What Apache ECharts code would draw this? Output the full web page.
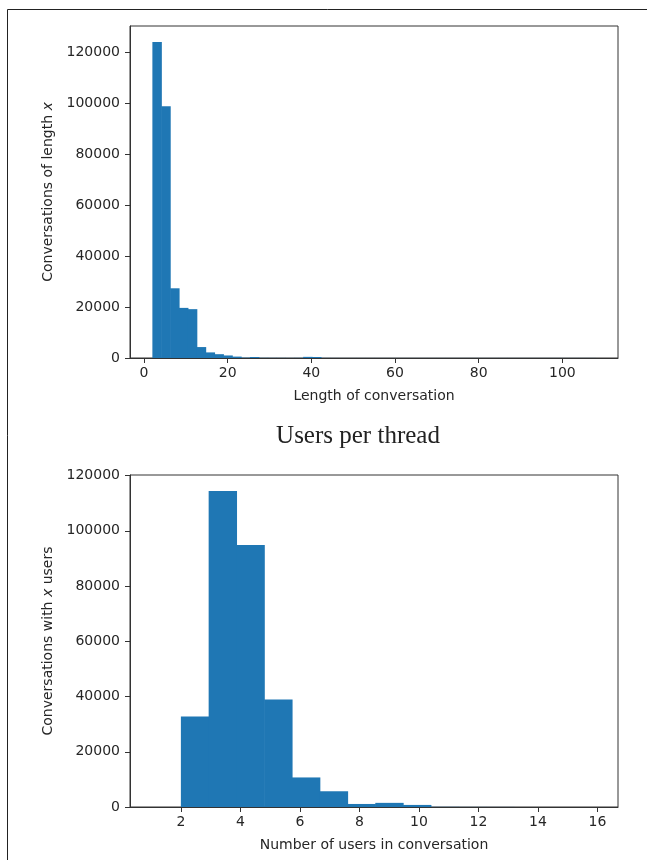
<!DOCTYPE html>
<html>
<head>
<meta charset="utf-8">
<script src="https://cdn.jsdelivr.net/npm/echarts@6/dist/echarts.min.js"></script>
<style>
html,body{margin:0;padding:0;background:#fff;}
#c{width:647px;height:860px;}
</style>
</head>
<body>
<div id="c"></div>
<script>
// ---- Data ----
// Top histogram: conversation length, 50 bins starting at 2, width 2.12
const lengthBinStart = 2;
const lengthBinWidth = 2.12;
const lengthCounts = [
  124200, 99000, 27400, 19700, 19200, 4300, 2200, 1500, 1000, 550,
  150, 400, 80, 60, 50, 40, 60, 450, 400, 40,
  30, 20, 20, 20, 20, 20, 20, 20, 20, 20,
  20, 20, 20, 20, 20, 20, 20, 20, 20, 20,
  20, 20, 20, 20, 20, 20, 20, 20, 20, 20
];
// Bottom histogram: users per conversation, 15 bins from 2 to 16
const usersBinStart = 2;
const usersBinEnd = 16;
const usersCounts = [
  32800, 114400, 94900, 38900, 10700, 5700, 1100, 1500, 750,
  60, 30, 20, 10, 10, 10
];
const lengthTicks = [0, 20, 40, 60, 80, 100];
const usersTicks = [2, 4, 6, 8, 10, 12, 14, 16];
const countTicks = [0, 20000, 40000, 60000, 80000, 100000, 120000];

// ---- Build bin tables ----
function bins(start, width, counts) {
  return counts.map((c, i) => [start + i * width, start + (i + 1) * width, c]);
}
const lengthData = bins(lengthBinStart, lengthBinWidth, lengthCounts);
const usersData = bins(usersBinStart, (usersBinEnd - usersBinStart) / usersCounts.length, usersCounts);

const BAR = '#1f77b4';
const TXT = '#262626';
const SPINE = '#333333';
const FONT = 'DejaVu Sans';

function renderItem(params, api) {
  const p0 = api.coord([api.value(0), api.value(2)]);
  const p1 = api.coord([api.value(1), 0]);
  return {
    type: 'rect',
    shape: { x: p0[0], y: p0[1], width: p1[0] - p0[0] + 0.6, height: p1[1] - p0[1] },
    style: { fill: BAR }
  };
}

const plain = v => String(v);

function xAxis(idx, min, max, ticks, name) {
  return {
    type: 'value', gridIndex: idx, min: min, max: max,
    name: name, nameLocation: 'middle', nameGap: 31,
    nameTextStyle: { fontFamily: FONT, fontSize: 14, color: TXT },
    axisLine: { show: true, onZero: false, lineStyle: { color: SPINE, width: 1 } },
    axisTick: { show: true, inside: false, length: 5, customValues: ticks, lineStyle: { color: SPINE } },
    axisLabel: { customValues: ticks, formatter: plain, fontFamily: FONT, fontSize: 14, color: TXT, margin: 8 },
    splitLine: { show: false },
    z: 5
  };
}
function yAxis(idx, max, name) {
  return {
    type: 'value', gridIndex: idx, min: 0, max: max,
    name: name, nameLocation: 'middle', nameGap: 70,
    nameTextStyle: { fontFamily: FONT, fontSize: 14, color: TXT,
      rich: { i: { fontFamily: FONT, fontSize: 14, color: TXT, fontStyle: 'italic' } } },
    axisLine: { show: true, onZero: false, lineStyle: { color: SPINE, width: 1 } },
    axisTick: { show: true, inside: false, length: 5, customValues: countTicks, lineStyle: { color: SPINE } },
    axisLabel: { customValues: countTicks, formatter: plain, fontFamily: FONT, fontSize: 14, color: TXT, margin: 10 },
    splitLine: { show: false },
    z: 5
  };
}

const chart = echarts.init(document.getElementById('c'), null, { renderer: 'canvas' });
chart.setOption({
  animation: false,
  backgroundColor: '#fff',
  grid: [
    { left: 130, top: 26, width: 488, height: 332, show: true, borderColor: SPINE, borderWidth: 1, backgroundColor: 'transparent' },
    { left: 130, top: 475, width: 488, height: 332, show: true, borderColor: SPINE, borderWidth: 1, backgroundColor: 'transparent' }
  ],
  xAxis: [
    xAxis(0, -3.35, 113.3, lengthTicks, 'Length of conversation'),
    xAxis(1, 0.29, 16.69, usersTicks, 'Number of users in conversation')
  ],
  yAxis: [
    yAxis(0, 130500, 'Conversations of length {i|x}'),
    yAxis(1, 120200, 'Conversations with {i|x} users')
  ],
  series: [
    { type: 'custom', xAxisIndex: 0, yAxisIndex: 0, renderItem: renderItem, data: lengthData,
      encode: { x: [0, 1], y: 2 }, clip: true },
    { type: 'custom', xAxisIndex: 1, yAxisIndex: 1, renderItem: renderItem, data: usersData,
      encode: { x: [0, 1], y: 2 }, clip: true }
  ],
  graphic: [
    { type: 'rect', shape: { x: 7.5, y: 9.5, width: 700, height: 900 },
      style: { fill: 'none', stroke: '#222', lineWidth: 1 }, silent: true },
    { type: 'text', x: 358, y: 436,
      style: { text: 'Users per thread', fontFamily: 'Liberation Serif', fontSize: 25,
        fill: '#222', align: 'center', verticalAlign: 'middle' } }
  ]
});
</script>
</body>
</html>
